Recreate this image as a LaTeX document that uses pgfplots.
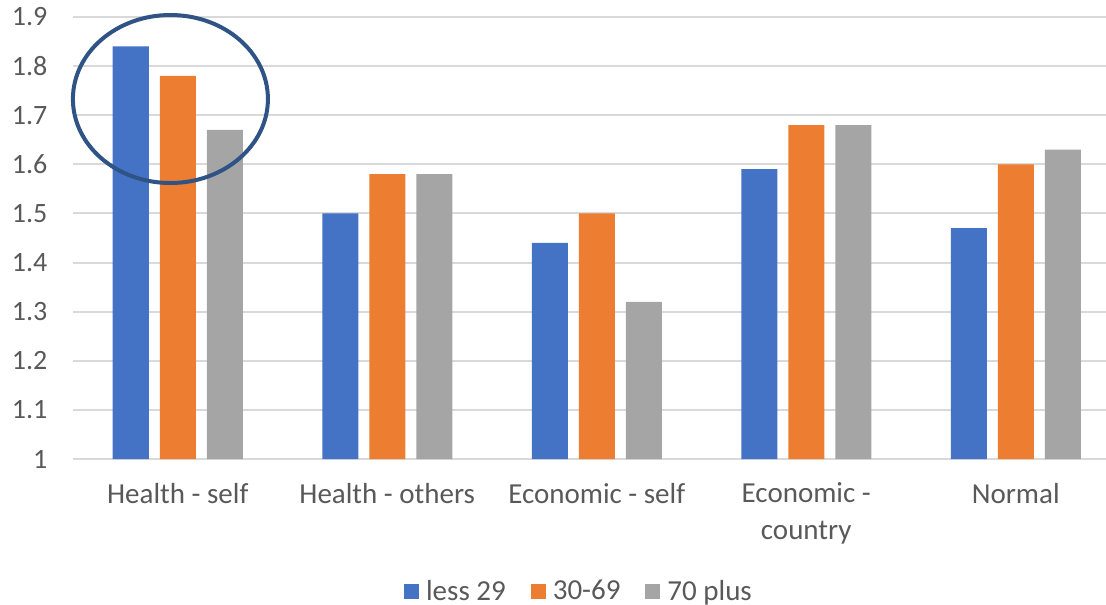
\documentclass[border=0pt]{standalone}
\usepackage{fontspec}
\setmainfont{Carlito}
\usepackage{pgfplots}
\pgfplotsset{compat=1.18}
\definecolor{cblue}{HTML}{4472C4}
\definecolor{corange}{HTML}{ED7D31}
\definecolor{cgray}{HTML}{A5A5A5}
\definecolor{txt}{HTML}{595959}
\definecolor{gridc}{HTML}{D9D9D9}
\definecolor{ell}{HTML}{2F5385}
\begin{document}
\begin{tikzpicture}[font=\fontsize{14bp}{18.5bp}\selectfont]
\clip[use as bounding box] (0,0) rectangle (553bp,302.5bp);
\begin{axis}[
  at={(36.5bp,73bp)}, anchor=south west,
  scale only axis, width=523.75bp, height=221bp,
  xmin=-0.5, xmax=4.5, ymin=1, ymax=1.9,
  ybar=5.5bp, bar width=18bp,
  xtick={0,1,2,3,4},
  xticklabels={Health - self, Health - others, Economic - self, {Economic -\\country}, Normal},
  ytick={1,1.1,1.2,1.3,1.4,1.5,1.6,1.7,1.8,1.9},
  ymajorgrids, grid style={gridc, line width=1bp},
  axis line style={draw=none},
  major tick length=0pt,
  tick label style={text=txt},
  xticklabel style={align=center, anchor=north, yshift=-8.5bp, font=\fontsize{14.5bp}{18.5bp}\selectfont},
  yticklabel style={xshift=-9.3bp},
  /pgf/number format/.cd, fixed, precision=1, assume math mode=true,
  /pgfplots/.cd,
  clip=false,
  legend style={at={(0.484,-0.300)}, anchor=center, draw=none, fill=none,
    legend columns=-1, text=txt, font=\fontsize{14.5bp}{18.5bp}\selectfont,
    /tikz/every odd column/.append style={column sep=1.5bp},
    /tikz/every even column/.append style={column sep=10.5bp}},
  legend image code/.code={\fill[#1] (0bp,-3.75bp) rectangle (7.5bp,3.75bp);},
]
\addplot[fill=cblue, draw=none] coordinates {(0,1.84) (1,1.50) (2,1.44) (3,1.59) (4,1.47)};
\addplot[fill=corange, draw=none] coordinates {(0,1.78) (1,1.58) (2,1.50) (3,1.68) (4,1.60)};
\addplot[fill=cgray, draw=none] coordinates {(0,1.67) (1,1.58) (2,1.32) (3,1.68) (4,1.63)};
\legend{less 29, 30-69, 70 plus}
\draw[ell, line width=2bp] (axis cs:-0.035,1.733) ellipse [x radius=48.75bp, y radius=42bp];
\end{axis}
\end{tikzpicture}
\end{document}
